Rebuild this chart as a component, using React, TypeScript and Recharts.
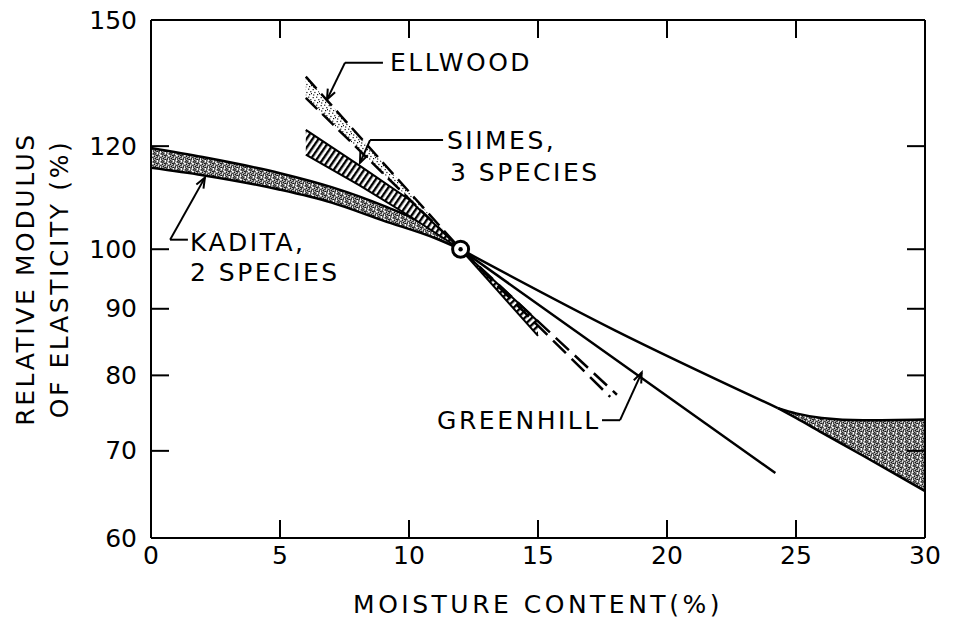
import React from "react";
import {
  ComposedChart,
  Area,
  Line,
  XAxis,
  YAxis,
  ReferenceDot,
  ReferenceLine,
} from "recharts";

// axis ticks
const xTicks = [0, 5, 10, 15, 20, 25, 30];
const yTicks = [60, 70, 80, 90, 100, 120, 150];

// Kadita, 2 species: band on the dry side, one curve, band again above ~24 %
const kaditaDryX = [0, 2, 5, 7, 9, 11, 12];
const kaditaDryLow = [115.5, 114.0, 111.1, 108.6, 105.2, 102.0, 100];
const kaditaDryHigh = [119.6, 117.7, 114.4, 111.6, 108.0, 103.5, 100];

const kaditaMidX = [12, 18, 24.3];
const kaditaMidY = [100, 86.6, 75.5];

const kaditaWetX = [24.3, 25, 26, 27.6, 30];
const kaditaWetLow = [75.5, 74.2, 72.3, 69.4, 65.2];
const kaditaWetHigh = [75.5, 74.8, 74.2, 73.9, 74.0];

// Greenhill
const greenhillX = [12, 24.2];
const greenhillY = [100, 67.3];

// Ellwood: stippled band above 12 %, two dashed lines below
const ellwoodDryX = [6, 12];
const ellwoodDryLow = [130.7, 100];
const ellwoodDryHigh = [135.7, 100];
const ellwoodWetAX = [12, 18.06];
const ellwoodWetAY = [100, 77.3];
const ellwoodWetBX = [12, 17.8];
const ellwoodWetBY = [100, 77.0];

// Siimes, 3 species: hatched band
const siimesDryX = [6, 8.1, 10, 12];
const siimesDryLow = [118.2, 111.9, 106.1, 100];
const siimesDryHigh = [123.5, 115.9, 109.2, 100];
const siimesWetX = [12, 15];
const siimesWetLow = [100, 85.8];
const siimesWetHigh = [100, 88.0];

// labels (data coordinates of the left end / middle of each text line)
const labelText = ["ELLWOOD", "SIIMES,", "3 SPECIES", "KADITA,", "2 SPECIES", "GREENHILL"];
const labelX = [9.26, 11.47, 11.59, 1.51, 1.51, 11.09];
const labelY = [139.1, 121.3, 114.5, 101.2, 95.9, 73.9];

// leader lines: [x1, y1, x2, y2, arrow]
const leaders: [number, number, number, number, boolean][] = [
  [8.99, 139.1, 7.52, 139.1, false],
  [7.52, 139.1, 6.82, 130.3, true],
  [11.32, 121.3, 8.49, 121.3, false],
  [8.49, 121.3, 8.1, 116.5, true],
  [1.43, 101.7, 0.74, 101.7, false],
  [0.74, 101.7, 2.09, 113.5, true],
  [17.48, 73.9, 18.18, 73.9, false],
  [18.18, 73.9, 19.02, 80.4, true],
];

const FONT = "'DejaVu Sans', sans-serif";

const rangeRows = (xs: number[], lo: number[], hi: number[]) =>
  xs.map((x, i) => ({ x, range: [lo[i], hi[i]] }));
const lineRows = (xs: number[], ys: number[]) => xs.map((x, i) => ({ x, y: ys[i] }));

const DENSE_DOTS = [
  [0.5, 1.2], [3.1, 0.4], [5.6, 2.2], [1.8, 3.6], [4.2, 4.8], [6.8, 5.4], [0.9, 6.3],
  [3.4, 7.1], [6.1, 0.2], [2.6, 5.5], [7.3, 3.2], [5.0, 6.8], [2.2, 1.9], [4.9, 3.3],
  [0.2, 4.6], [6.6, 7.2], [3.9, 2.6], [1.5, 0.1],
];
const LIGHT_DOTS = [[0.6, 1.0], [4.1, 0.6], [2.3, 3.9], [6.2, 3.1], [1.1, 6.4], [5.0, 6.0], [7.0, 5.0]];

const BottomTick = ({ x, y, payload }: any) => (
  <g>
    <line x1={x} y1={y} x2={x} y2={y - 18} stroke="#000" strokeWidth={2} />
    <text x={x} y={y + 17} textAnchor="middle" dominantBaseline="central" fontSize={25} fontFamily={FONT} fill="#000">
      {payload.value}
    </text>
  </g>
);
const TopTick = ({ x, y }: any) => <line x1={x} y1={y} x2={x} y2={y + 18} stroke="#000" strokeWidth={2} />;
const LeftTick = ({ x, y, payload }: any) => (
  <g>
    <line x1={x} y1={y} x2={x + 18} y2={y} stroke="#000" strokeWidth={2} />
    <text x={x - 14} y={y} textAnchor="end" dominantBaseline="central" fontSize={25} fontFamily={FONT} fill="#000">
      {payload.value}
    </text>
  </g>
);
const RightTick = ({ x, y }: any) => <line x1={x} y1={y} x2={x - 18} y2={y} stroke="#000" strokeWidth={2} />;

const XTitle = ({ viewBox }: any) => {
  if (!viewBox) return null;
  return (
    <text x={viewBox.x + viewBox.width / 2} y={viewBox.y + 66} textAnchor="middle" dominantBaseline="central"
      fontSize={25} fontFamily={FONT} letterSpacing={3.5} fill="#000">
      MOISTURE CONTENT(%)
    </text>
  );
};

const YTitle = ({ viewBox }: any) => {
  if (!viewBox) return null;
  const cy = viewBox.y + viewBox.height / 2;
  const x = viewBox.x + viewBox.width;
  return (
    <g fontSize={25} fontFamily={FONT} letterSpacing={2.6} fill="#000">
      <text transform={`translate(${x - 126},${cy}) rotate(-90)`} textAnchor="middle" dominantBaseline="central">
        RELATIVE MODULUS
      </text>
      <text transform={`translate(${x - 92},${cy}) rotate(-90)`} textAnchor="middle" dominantBaseline="central">
        OF ELASTICITY (%)
      </text>
    </g>
  );
};

const leaderShape = (arrow: boolean) => (p: any) => {
  const { x1, y1, x2, y2 } = p;
  if (x1 == null) return <g />;
  const a = Math.atan2(y2 - y1, x2 - x1);
  const L = 11;
  const s = 0.38;
  return (
    <g>
      <line x1={x1} y1={y1} x2={x2} y2={y2} stroke="#000" strokeWidth={2} />
      {arrow && (
        <path
          d={`M${x2 - L * Math.cos(a - s)},${y2 - L * Math.sin(a - s)} L${x2},${y2} L${x2 - L * Math.cos(a + s)},${y2 - L * Math.sin(a + s)}`}
          fill="none"
          stroke="#000"
          strokeWidth={2}
        />
      )}
    </g>
  );
};

const labelShape = (text: string) => (p: any) => (
  <text x={p.cx} y={p.cy} dominantBaseline="central" fontSize={25} fontFamily={FONT} letterSpacing={2.5} fill="#000">
    {text}
  </text>
);

export default function App() {
  return (
    <div style={{ position: "absolute", left: 0, top: 0, background: "#fff" }}>
      <ComposedChart width={957} height={619} margin={{ top: 19, right: 31, bottom: 80, left: 150 }}>
        <defs>
          <pattern id="stippleDense" width="8" height="8" patternUnits="userSpaceOnUse">
            <rect width="8" height="8" fill="#fff" />
            {DENSE_DOTS.map(([x, y], i) => (
              <rect key={i} x={x} y={y} width={1.5} height={1.5} fill="#111" />
            ))}
          </pattern>
          <pattern id="stippleLight" width="8" height="8" patternUnits="userSpaceOnUse">
            <rect width="8" height="8" fill="#fff" />
            {LIGHT_DOTS.map(([x, y], i) => (
              <rect key={i} x={x} y={y} width={1.2} height={1.2} fill="#111" />
            ))}
          </pattern>
          <pattern id="hatchDry" width="5" height="5" patternUnits="userSpaceOnUse" patternTransform="rotate(34.6)">
            <rect width="5" height="5" fill="#fff" />
            <rect width="2.4" height="5" fill="#000" />
          </pattern>
          <pattern id="hatchWet" width="5" height="5" patternUnits="userSpaceOnUse" patternTransform="rotate(46.7)">
            <rect width="5" height="5" fill="#fff" />
            <rect width="2.4" height="5" fill="#000" />
          </pattern>
        </defs>

        <XAxis
          dataKey="x"
          type="number"
          domain={[0, 30]}
          ticks={xTicks}
          interval={0}
          allowDataOverflow
          height={1}
          tickSize={0}
          tickMargin={0}
          tickLine={false}
          tick={BottomTick}
          axisLine={{ stroke: "#000", strokeWidth: 2 }}
          label={XTitle}
        />
        <XAxis
          xAxisId="top"
          orientation="top"
          dataKey="x"
          type="number"
          domain={[0, 30]}
          ticks={xTicks}
          interval={0}
          allowDataOverflow
          height={1}
          tickSize={0}
          tickMargin={0}
          tickLine={false}
          tick={TopTick}
          axisLine={{ stroke: "#000", strokeWidth: 2 }}
        />
        <YAxis
          type="number"
          scale="log"
          domain={[60, 150]}
          ticks={yTicks}
          interval={0}
          allowDataOverflow
          width={1}
          tickSize={0}
          tickMargin={0}
          tickLine={false}
          tick={LeftTick}
          axisLine={{ stroke: "#000", strokeWidth: 2 }}
          label={YTitle}
        />
        <YAxis
          yAxisId="right"
          orientation="right"
          type="number"
          scale="log"
          domain={[60, 150]}
          ticks={yTicks}
          interval={0}
          allowDataOverflow
          width={1}
          tickSize={0}
          tickMargin={0}
          tickLine={false}
          tick={RightTick}
          axisLine={{ stroke: "#000", strokeWidth: 2 }}
        />

        <Area
          data={rangeRows(kaditaDryX, kaditaDryLow, kaditaDryHigh)}
          dataKey="range"
          type="monotone"
          fill="url(#stippleDense)"
          fillOpacity={1}
          stroke="#000"
          strokeWidth={2.5}
          isAnimationActive={false}
          dot={false}
          activeDot={false}
        />
        <Area
          data={rangeRows(kaditaWetX, kaditaWetLow, kaditaWetHigh)}
          dataKey="range"
          type="monotone"
          fill="url(#stippleDense)"
          fillOpacity={1}
          stroke="#000"
          strokeWidth={2.5}
          isAnimationActive={false}
          dot={false}
          activeDot={false}
        />
        <Line
          data={lineRows(kaditaMidX, kaditaMidY)}
          dataKey="y"
          type="monotone"
          stroke="#000"
          strokeWidth={2.5}
          dot={false}
          activeDot={false}
          isAnimationActive={false}
        />
        <Line
          data={lineRows(greenhillX, greenhillY)}
          dataKey="y"
          type="linear"
          stroke="#000"
          strokeWidth={2.5}
          dot={false}
          activeDot={false}
          isAnimationActive={false}
        />
        <Area
          data={rangeRows(ellwoodDryX, ellwoodDryLow, ellwoodDryHigh)}
          dataKey="range"
          type="linear"
          fill="url(#stippleLight)"
          fillOpacity={1}
          stroke="#000"
          strokeWidth={2.5}
          strokeDasharray="16 7"
          isAnimationActive={false}
          dot={false}
          activeDot={false}
        />
        <Line
          data={lineRows(ellwoodWetAX, ellwoodWetAY)}
          dataKey="y"
          type="linear"
          stroke="#000"
          strokeWidth={2.5}
          strokeDasharray="18 8"
          dot={false}
          activeDot={false}
          isAnimationActive={false}
        />
        <Line
          data={lineRows(ellwoodWetBX, ellwoodWetBY)}
          dataKey="y"
          type="linear"
          stroke="#000"
          strokeWidth={2.5}
          strokeDasharray="18 8"
          dot={false}
          activeDot={false}
          isAnimationActive={false}
        />
        <Area
          data={rangeRows(siimesDryX, siimesDryLow, siimesDryHigh)}
          dataKey="range"
          type="linear"
          fill="url(#hatchDry)"
          fillOpacity={1}
          stroke="#000"
          strokeWidth={2}
          isAnimationActive={false}
          dot={false}
          activeDot={false}
        />
        <Area
          data={rangeRows(siimesWetX, siimesWetLow, siimesWetHigh)}
          dataKey="range"
          type="linear"
          fill="url(#hatchWet)"
          fillOpacity={1}
          stroke="#000"
          strokeWidth={2}
          isAnimationActive={false}
          dot={false}
          activeDot={false}
        />

        {leaders.map(([x1, y1, x2, y2, arrow], i) => (
          <ReferenceLine
            key={`ld${i}`}
            segment={[{ x: x1, y: y1 }, { x: x2, y: y2 }]}
            shape={leaderShape(arrow)}
            ifOverflow="visible"
          />
        ))}
        {labelText.map((t, i) => (
          <ReferenceDot key={`lb${i}`} x={labelX[i]} y={labelY[i]} r={1} shape={labelShape(t)} ifOverflow="visible" />
        ))}

        <ReferenceDot x={12} y={100} r={8} fill="#fff" stroke="#000" strokeWidth={3} />
        <ReferenceDot x={12} y={100} r={2.2} fill="#000" stroke="none" />
      </ComposedChart>
    </div>
  );
}
